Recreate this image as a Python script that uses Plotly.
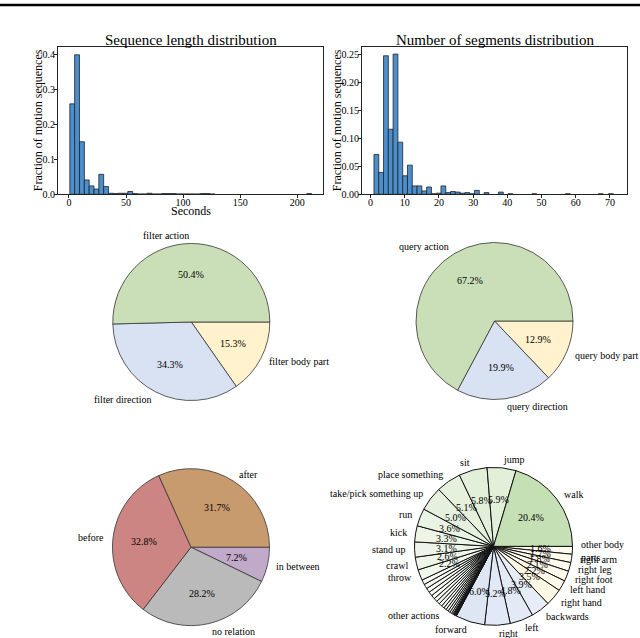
import math
import plotly.graph_objects as go

W, H = 640, 638          # reference picture size (coordinates below are in these pixels)
H_PAGE = 644             # page height: the photo of the page is squeezed to 638 rows
FONT = "Liberation Serif, Times New Roman, serif"

# ---------------- data ----------------
seq_bin_centers = [2.9, 7.1, 11.4, 15.6, 19.8, 24.1, 28.3, 32.5, 36.8, 41.0, 45.2, 49.5,
                   53.7, 57.9, 62.2, 66.4, 70.6, 74.9, 79.1, 83.3, 87.6, 91.8, 96.0, 100.3,
                   104.5, 108.7, 113.0, 117.2, 121.4, 125.7, 210.5]
seq_fractions = [0.258, 0.398, 0.150, 0.041, 0.024, 0.015, 0.057, 0.022, 0.003, 0.002, 0.003, 0.003,
                 0.008, 0.002, 0.001, 0.001, 0.003, 0.001, 0.001, 0.002, 0.002, 0.002, 0.001, 0.001,
                 0.001, 0.001, 0.001, 0.002, 0.002, 0.001, 0.002]
seq_ticks = [0, 50, 100, 150, 200]

seg_bin_centers = [1.7, 3.1, 4.5, 5.9, 7.3, 8.7, 10.1, 11.5, 12.9, 14.3, 15.7, 17.1, 18.5, 19.9,
                   21.3, 22.7, 24.1, 25.5, 26.9, 28.3, 29.7, 31.1, 33.9, 38.1, 40.9, 47.9, 57.7,
                   67.3, 70.3]
seg_fractions = [0.071, 0.039, 0.247, 0.116, 0.250, 0.093, 0.033, 0.052, 0.015, 0.015, 0.006, 0.013,
                 0.001, 0.002, 0.015, 0.003, 0.005, 0.004, 0.002, 0.003, 0.001, 0.007, 0.003, 0.004,
                 0.001, 0.001, 0.001, 0.001, 0.001]
seg_ticks = [0, 10, 20, 30, 40, 50, 60, 70]

filter_labels = ["filter action", "filter direction", "filter body part"]
filter_values = [50.4, 34.3, 15.3]

query_labels = ["query action", "query direction", "query body part"]
query_values = [67.2, 19.9, 12.9]

relation_labels = ["after", "before", "no relation", "in between"]
relation_values = [31.7, 32.8, 28.2, 7.2]

action_labels = ["walk", "jump", "sit", "place something", "take/pick something up", "run", "kick",
                 "stand up", "crawl", "throw",
                 "", "", "", "", "", "", "", "", "", "other actions",
                 "", "", "", "", "", "", "", "", "", "", "", "", ""]
action_values = [20.4, 5.9, 5.8, 5.1, 5.0, 3.6, 3.3, 3.1, 2.6, 2.2,
                 1.0, 0.95, 0.9, 0.85, 0.8, 0.75, 0.7, 0.65, 0.6, 0.55,
                 0.5, 0.45, 0.4, 0.3, 0.2, 0.15, 0.1, 0.1, 0.05, 0.05, 0.05, 0.05, 0.05]
direction_labels = ["forward", "right", "left", "backwards"]
direction_values = [6.0, 5.2, 4.8, 3.9]
bodypart_labels = ["right hand", "left hand", "right foot", "right leg", "right arm", "other body\nparts"]
bodypart_values = [3.5, 2.2, 2.1, 1.8, 1.7, 1.6]

# ---------------- styles ----------------
BAR_COLOR = "#4b8fcf"
GREEN, BLUE, YELLOW = "#cadfb8", "#d9e2f3", "#fff2cc"
REL_COLORS = ["#c89b6e", "#cc8582", "#bababa", "#c1a9c9"]


def hex_rgb(h):
    h = h.lstrip("#")
    return tuple(int(h[i:i + 2], 16) for i in (0, 2, 4))


def tint(base, a):
    r, g, b = hex_rgb(base)
    a = max(0.0, min(1.0, a))
    return "rgb(%d,%d,%d)" % (round(255 - a * (255 - r)), round(255 - a * (255 - g)), round(255 - a * (255 - b)))


fig = go.Figure()


def px_dom_x(a, b):
    return [a / W, b / W]


def px_dom_y(top, bottom):
    return [1 - bottom / H, 1 - top / H]


axis_common = dict(showline=True, mirror=True, linecolor="#222", linewidth=0.9, ticks="outside",
                   ticklen=3, tickwidth=0.8, tickcolor="#222", showgrid=False, zeroline=False,
                   tickfont=dict(family=FONT, size=10, color="black"))

fig.add_trace(go.Bar(x=seq_bin_centers, y=seq_fractions, width=4.24, xaxis="x", yaxis="y",
                     marker=dict(color=BAR_COLOR, line=dict(color="#222", width=0.8)),
                     showlegend=False, hoverinfo="skip"))
fig.add_trace(go.Bar(x=seg_bin_centers, y=seg_fractions, width=1.4, xaxis="x2", yaxis="y2",
                     marker=dict(color=BAR_COLOR, line=dict(color="#222", width=0.8)),
                     showlegend=False, hoverinfo="skip"))

HT, HB = 47, 194
fig.update_layout(
    xaxis=dict(domain=px_dom_x(58, 323), range=[-9.6, 222.6], tickvals=seq_ticks, anchor="y",
               ticklabelstandoff=-4, **axis_common),
    yaxis=dict(domain=px_dom_y(HT, HB), range=[0, 0.42], tickvals=[0, 0.1, 0.2, 0.3, 0.4],
               tickformat=".1f", anchor="x", ticklabelstandoff=-3, **axis_common),
    xaxis2=dict(domain=px_dom_x(362, 627), range=[-2.5, 75], tickvals=seg_ticks, anchor="y2",
                ticklabelstandoff=-4, **axis_common),
    yaxis2=dict(domain=px_dom_y(HT, HB), range=[0, 0.2625], tickvals=[0, 0.05, 0.10, 0.15, 0.20, 0.25],
                tickformat=".2f", anchor="x2", ticklabelstandoff=-3, **axis_common),
)

annotations = []


def text_ann(x, y, text, size=10, xanchor="center", yanchor="middle", angle=0, align="center"):
    annotations.append(dict(x=x / W, y=1 - y / H, xref="paper", yref="paper", text=text,
                            showarrow=False, xanchor=xanchor, yanchor=yanchor, textangle=angle,
                            align=align, borderpad=0,
                            font=dict(family=FONT, size=size, color="black")))


text_ann(191, 39.5, "Sequence length distribution", size=15)
text_ann(495, 39.5, "Number of segments distribution", size=15)
text_ann(191, 211, "Seconds", size=12)
text_ann(37.5, 120.5, "Fraction of motion sequences", size=12, angle=-90)
text_ann(336.5, 120.5, "Fraction of motion sequences", size=12, angle=-90)


def add_pie(cx, cy, r, labels, values, colors, line_color, line_w, pct_min=0.0):
    n = len(values)
    fig.add_trace(go.Pie(
        values=values[::-1], labels=["s%d" % i for i in range(n)][::-1],
        sort=False, direction="clockwise", rotation=90, textinfo="none", hoverinfo="skip",
        marker=dict(colors=colors[::-1], line=dict(color=line_color, width=line_w)),
        domain=dict(x=[(cx - r) / W, (cx + r) / W], y=[1 - (cy + r) / H, 1 - (cy - r) / H]),
        showlegend=False))
    total = float(sum(values))
    start = 0.0
    for lab, v in zip(labels, values):
        frac = v / total
        mid = (start + frac / 2) * 2 * math.pi
        start += frac
        c, s = math.cos(mid), math.sin(mid)
        if lab:
            lx, ly = cx + 1.1 * r * c, cy - 1.1 * r * s
            xa = "left" if c > 1e-9 else ("right" if c < -1e-9 else "center")
            text_ann(lx, ly, lab.replace("\n", "<br>"), size=10, xanchor=xa, align=xa)
        pct = 100 * frac
        if pct >= pct_min:
            text_ann(cx + 0.6 * r * c, cy - 0.6 * r * s, "%.1f%%" % pct, size=10)


add_pie(191.3, 321.5, 78.5, filter_labels, filter_values, [GREEN, BLUE, YELLOW], "#333", 0.8)
add_pie(494.5, 320.5, 78.5, query_labels, query_values, [GREEN, BLUE, YELLOW], "#333", 0.8)
add_pie(191.0, 546.3, 78.5, relation_labels, relation_values, REL_COLORS, "#333", 0.8)

fine_labels = action_labels + direction_labels + bodypart_labels
fine_values = action_values + direction_values + bodypart_values
fine_colors = ([tint("#c5e0b4", 0.12 + 0.065 * v * (3 if v > 10 else 1)) for v in action_values] +
               [tint("#b4c7e7", 0.08 + 0.06 * v) for v in direction_values] +
               [tint("#ffe9a8", 0.1 + 0.06 * v) for v in bodypart_values])
add_pie(493.5, 545.5, 79.0, fine_labels, fine_values, fine_colors, "#111", 1.0, pct_min=1.55)

fig.update_layout(
    width=W, height=H_PAGE, margin=dict(l=0, r=0, t=0, b=0),
    paper_bgcolor="white", plot_bgcolor="white",
    font=dict(family=FONT, size=10, color="black"),
    annotations=annotations,
    shapes=[dict(type="line", xref="paper", yref="paper", x0=0, x1=1, y0=1 - 5 / H, y1=1 - 5 / H,
                 line=dict(color="black", width=2.5))],
)

page_js = ("var d=document.documentElement,b=document.body;"
           "d.style.margin='0';d.style.padding='0';d.style.overflow='hidden';"
           "b.style.margin='0';b.style.padding='0';b.style.overflow='hidden';")
fig.write_html("out.html", config={"displayModeBar": False}, post_script=page_js)
